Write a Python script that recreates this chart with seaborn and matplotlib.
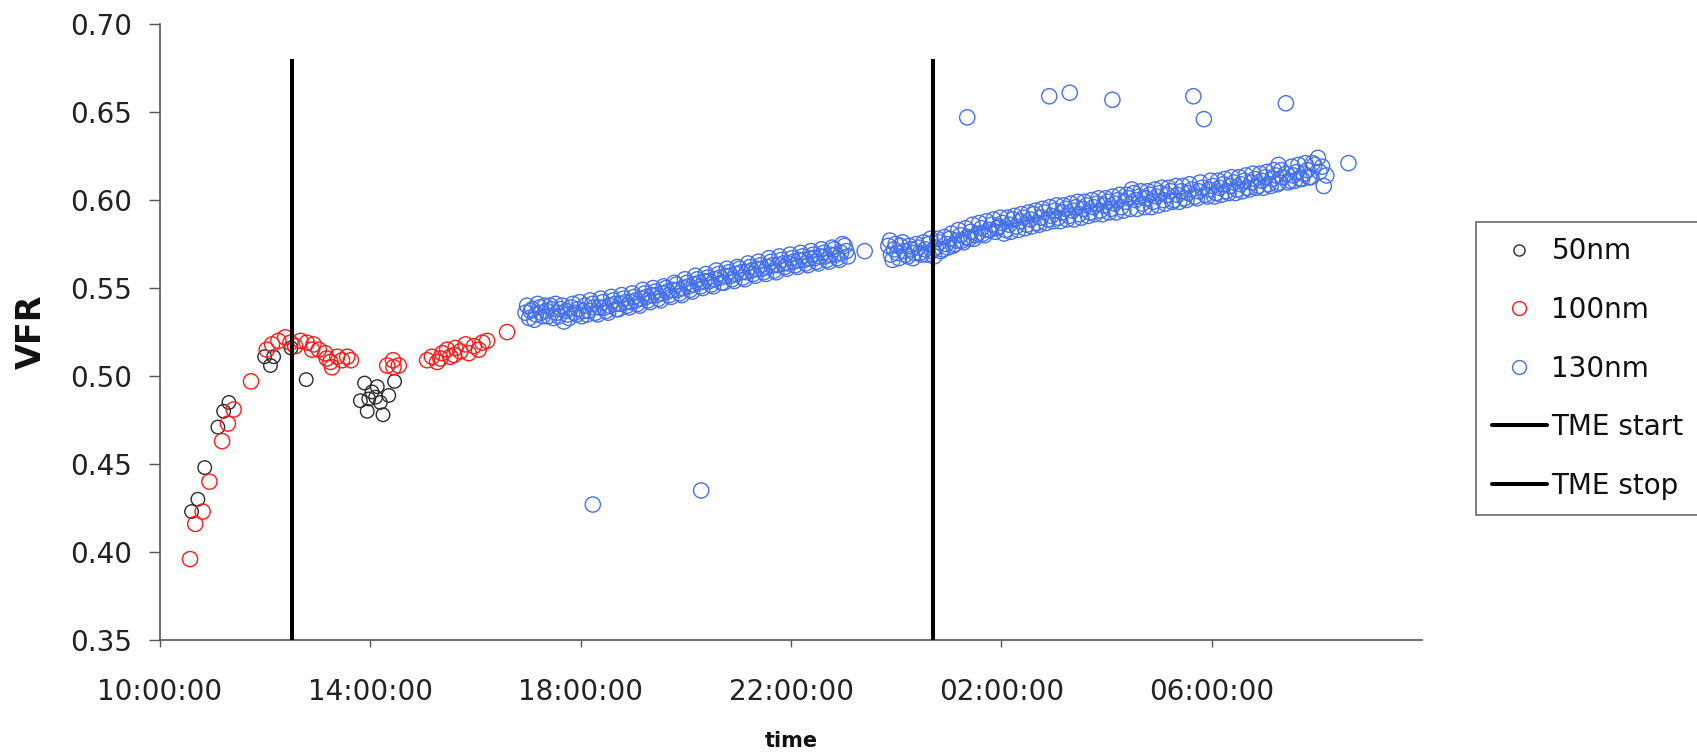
import matplotlib
matplotlib.use("Agg")
import matplotlib.pyplot as plt
from matplotlib.lines import Line2D
import seaborn as sns
import pandas as pd

# ---- data (hours elapsed since 10:00:00) ----
t50 = [0.60, 0.72, 0.85, 1.10, 1.21, 1.31, 1.99, 2.10, 2.16, 2.49, 2.78,
       3.81, 3.89, 3.94, 3.97, 4.03, 4.10, 4.13, 4.19, 4.24, 4.35, 4.46]
v50 = [0.423, 0.430, 0.448, 0.471, 0.480, 0.485, 0.511, 0.506, 0.511, 0.516, 0.498,
       0.486, 0.496, 0.480, 0.487, 0.491, 0.488, 0.494, 0.485, 0.478, 0.489, 0.497]

t100 = [0.57, 0.67, 0.81, 0.94, 1.18, 1.29, 1.40, 1.73,
        2.03, 2.13, 2.25, 2.38, 2.48, 2.57, 2.67, 2.79, 2.89, 2.92, 3.02, 3.14,
        3.17, 3.24, 3.27, 3.37, 3.46, 3.56, 3.63,
        4.32, 4.43, 4.44, 4.54,
        5.08, 5.17, 5.27, 5.33, 5.37, 5.46, 5.52, 5.59, 5.62, 5.71, 5.81, 5.87,
        5.97, 6.06, 6.13, 6.22, 6.60]
v100 = [0.396, 0.416, 0.423, 0.440, 0.463, 0.473, 0.481, 0.497,
        0.515, 0.518, 0.520, 0.522, 0.519, 0.517, 0.520, 0.519, 0.515, 0.518, 0.515, 0.513,
        0.510, 0.508, 0.505, 0.511, 0.509, 0.511, 0.509,
        0.506, 0.509, 0.505, 0.506,
        0.509, 0.511, 0.508, 0.510, 0.513, 0.515, 0.511, 0.512, 0.516, 0.514, 0.518, 0.513,
        0.517, 0.515, 0.519, 0.520, 0.525]

# 130nm: main readings
t130a = [6.95, 7.02, 7.08, 7.15, 7.22, 7.28, 7.35, 7.42, 7.48, 7.55, 7.62, 7.68, 7.75,
         7.82, 7.88, 7.95, 8.02, 8.08, 8.15, 8.22, 8.23, 8.28, 8.35, 8.42, 8.48, 8.55,
         8.62, 8.68, 8.75, 8.82, 8.88, 8.95, 9.02, 9.08, 9.15, 9.22, 9.28, 9.35, 9.42,
         9.48, 9.55, 9.62, 9.68, 9.75, 9.82, 9.88, 9.95, 10.02, 10.08, 10.15, 10.22,
         10.28, 10.29, 10.35, 10.42, 10.48, 10.55, 10.62, 10.68, 10.75, 10.82, 10.88,
         10.95, 11.02, 11.08, 11.15, 11.22, 11.28, 11.35, 11.42, 11.48, 11.55, 11.62,
         11.68, 11.75, 11.82, 11.88, 11.95, 12.02, 12.08, 12.15, 12.22, 12.28, 12.35,
         12.42, 12.48, 12.55, 12.62, 12.68, 12.75, 12.82, 12.88, 12.95, 13.02, 13.08,
         13.40,
         13.85, 13.90, 13.96, 14.02, 14.08, 14.15, 14.22, 14.28, 14.35, 14.42, 14.48,
         14.55, 14.62, 14.68, 14.75, 14.82, 14.88, 14.95, 15.02, 15.08, 15.15, 15.22,
         15.28, 15.35, 15.35, 15.42, 15.48, 15.55, 15.62, 15.68, 15.75, 15.82, 15.88,
         15.95, 16.02, 16.08, 16.15, 16.22, 16.28, 16.35, 16.42, 16.48, 16.55, 16.62,
         16.68, 16.75, 16.82, 16.88, 16.91, 16.95, 17.02, 17.08, 17.15, 17.22, 17.28,
         17.30, 17.35, 17.42, 17.48, 17.55, 17.62, 17.68, 17.75, 17.82, 17.88, 17.95,
         18.02, 18.08, 18.11, 18.15, 18.22, 18.28, 18.35, 18.42, 18.48, 18.55, 18.62,
         18.68, 18.75, 18.82, 18.88, 18.95, 19.02, 19.08, 19.15, 19.22, 19.28, 19.35,
         19.42, 19.48, 19.55, 19.62, 19.65, 19.68, 19.75, 19.82, 19.85, 19.88, 19.95,
         20.02, 20.08, 20.15, 20.22, 20.28, 20.35, 20.42, 20.48, 20.55, 20.62, 20.68,
         20.75, 20.82, 20.88, 20.95, 21.02, 21.08, 21.15, 21.22, 21.27, 21.28, 21.35,
         21.41, 21.42, 21.48, 21.55, 21.62, 21.68, 21.75, 21.82, 21.88, 21.95, 22.02,
         22.05, 22.10, 22.13, 22.18, 22.60]
v130a = [0.536, 0.533, 0.538, 0.535, 0.539, 0.534, 0.537, 0.540, 0.533, 0.536, 0.538, 0.531, 0.535,
         0.539, 0.536, 0.538, 0.534, 0.540, 0.537, 0.541, 0.427, 0.536, 0.539, 0.542, 0.537, 0.540,
         0.543, 0.538, 0.541, 0.544, 0.540, 0.542, 0.545, 0.541, 0.544, 0.547, 0.543, 0.546, 0.548,
         0.544, 0.547, 0.550, 0.546, 0.549, 0.552, 0.547, 0.550, 0.553, 0.549, 0.552, 0.555,
         0.551, 0.435, 0.554, 0.556, 0.552, 0.555, 0.558, 0.553, 0.557, 0.559, 0.555,
         0.558, 0.561, 0.556, 0.559, 0.562, 0.558, 0.561, 0.563, 0.559, 0.562, 0.565,
         0.560, 0.563, 0.566, 0.562, 0.564, 0.567, 0.563, 0.566, 0.568, 0.564, 0.567,
         0.569, 0.565, 0.568, 0.570, 0.566, 0.569, 0.572, 0.567, 0.570, 0.574, 0.568,
         0.571,
         0.574, 0.569, 0.572, 0.570, 0.574, 0.571, 0.568, 0.572, 0.570, 0.573, 0.569,
         0.572, 0.575, 0.571, 0.573, 0.576, 0.572, 0.575, 0.578, 0.574, 0.577, 0.580,
         0.576, 0.647, 0.579, 0.582, 0.578, 0.581, 0.584, 0.580, 0.583, 0.586, 0.582,
         0.585, 0.587, 0.583, 0.586, 0.589, 0.585, 0.588, 0.590, 0.586, 0.589, 0.592,
         0.587, 0.590, 0.593, 0.589, 0.659, 0.591, 0.594, 0.590, 0.593, 0.595, 0.591,
         0.661, 0.594, 0.596, 0.592, 0.595, 0.597, 0.593, 0.596, 0.598, 0.594, 0.597,
         0.599, 0.595, 0.657, 0.598, 0.600, 0.596, 0.599, 0.601, 0.606, 0.600, 0.602,
         0.598, 0.601, 0.603, 0.599, 0.602, 0.604, 0.600, 0.603, 0.605, 0.600, 0.603,
         0.605, 0.601, 0.604, 0.606, 0.659, 0.602, 0.605, 0.607, 0.646, 0.603, 0.606,
         0.608, 0.604, 0.607, 0.609, 0.605, 0.608, 0.610, 0.606, 0.609, 0.611, 0.607,
         0.610, 0.612, 0.608, 0.611, 0.613, 0.609, 0.612, 0.614, 0.620, 0.610, 0.613,
         0.655, 0.615, 0.611, 0.614, 0.616, 0.612, 0.615, 0.617, 0.613, 0.620, 0.624,
         0.616, 0.619, 0.608, 0.614, 0.621]

# 130nm: interleaved readings (spread of the band)
t130b = [6.98, 7.05, 7.12, 7.18, 7.25, 7.32, 7.38, 7.45, 7.52, 7.58, 7.65, 7.72, 7.78,
         7.85, 7.92, 7.98, 8.05, 8.12, 8.18, 8.25, 8.32, 8.38, 8.45, 8.52, 8.58, 8.65,
         8.72, 8.78, 8.85, 8.92, 8.98, 9.05, 9.12, 9.18, 9.25, 9.32, 9.38, 9.45, 9.52,
         9.58, 9.65, 9.72, 9.78, 9.85, 9.92, 9.98, 10.05, 10.12, 10.18, 10.25, 10.32,
         10.38, 10.45, 10.52, 10.58, 10.65, 10.72, 10.78, 10.85, 10.92, 10.98, 11.05,
         11.12, 11.18, 11.25, 11.32, 11.38, 11.45, 11.52, 11.58, 11.65, 11.72, 11.78,
         11.85, 11.92, 11.98, 12.05, 12.12, 12.18, 12.25, 12.32, 12.38, 12.45, 12.52,
         12.58, 12.65, 12.72, 12.78, 12.85, 12.92, 12.98, 13.05,
         13.88, 13.93, 13.99, 14.05, 14.12, 14.18, 14.25, 14.32, 14.38, 14.45, 14.52,
         14.58, 14.65, 14.72, 14.78, 14.85, 14.92, 14.98, 15.05, 15.12, 15.18, 15.25,
         15.32, 15.38, 15.45, 15.52, 15.58, 15.65, 15.72, 15.78, 15.85, 15.92, 15.98,
         16.05, 16.12, 16.18, 16.25, 16.32, 16.38, 16.45, 16.52, 16.58, 16.65, 16.72,
         16.78, 16.85, 16.92, 16.98, 17.05, 17.12, 17.18, 17.25, 17.32, 17.38, 17.45,
         17.52, 17.58, 17.65, 17.72, 17.78, 17.85, 17.92, 17.98, 18.05, 18.12, 18.18,
         18.25, 18.32, 18.38, 18.45, 18.52, 18.58, 18.65, 18.72, 18.78, 18.85, 18.92,
         18.98, 19.05, 19.12, 19.18, 19.25, 19.32, 19.38, 19.45, 19.52, 19.58, 19.72,
         19.78, 19.92, 19.98, 20.05, 20.12, 20.18, 20.25, 20.32, 20.38, 20.45, 20.52,
         20.58, 20.65, 20.72, 20.78, 20.85, 20.92, 20.98, 21.05, 21.12, 21.18, 21.25,
         21.32, 21.45, 21.52, 21.58, 21.65, 21.72, 21.78, 21.85, 21.92]
v130b = [0.540, 0.537, 0.532, 0.541, 0.536, 0.540, 0.534, 0.538, 0.541, 0.534, 0.540, 0.537, 0.533,
         0.541, 0.535, 0.542, 0.537, 0.535, 0.543, 0.539, 0.535, 0.544, 0.539, 0.536, 0.545, 0.541,
         0.538, 0.546, 0.542, 0.539, 0.547, 0.543, 0.540, 0.549, 0.545, 0.542, 0.550, 0.546, 0.543,
         0.551, 0.548, 0.545, 0.553, 0.549, 0.546, 0.555, 0.551, 0.548, 0.557, 0.553, 0.550,
         0.558, 0.554, 0.551, 0.560, 0.556, 0.553, 0.561, 0.557, 0.554, 0.562, 0.559,
         0.555, 0.564, 0.560, 0.557, 0.565, 0.561, 0.558, 0.567, 0.563, 0.559, 0.568,
         0.564, 0.561, 0.569, 0.565, 0.562, 0.570, 0.566, 0.563, 0.571, 0.567, 0.564,
         0.572, 0.568, 0.565, 0.573, 0.569, 0.566, 0.575, 0.571,
         0.577, 0.566, 0.575, 0.567, 0.576, 0.569, 0.574, 0.567, 0.575, 0.570, 0.576,
         0.569, 0.578, 0.568, 0.578, 0.571, 0.579, 0.573, 0.581, 0.575, 0.583, 0.577,
         0.584, 0.578, 0.586, 0.580, 0.587, 0.581, 0.588, 0.583, 0.589, 0.584, 0.590,
         0.581, 0.590, 0.582, 0.591, 0.583, 0.592, 0.584, 0.593, 0.585, 0.594, 0.586,
         0.595, 0.587, 0.596, 0.588, 0.597, 0.588, 0.597, 0.589, 0.598, 0.589, 0.599,
         0.590, 0.599, 0.591, 0.600, 0.592, 0.601, 0.592, 0.601, 0.593, 0.602, 0.593,
         0.603, 0.594, 0.603, 0.595, 0.604, 0.595, 0.605, 0.596, 0.605, 0.596, 0.606,
         0.597, 0.607, 0.598, 0.607, 0.599, 0.608, 0.599, 0.608, 0.600, 0.609, 0.601,
         0.610, 0.602, 0.611, 0.602, 0.611, 0.603, 0.612, 0.604, 0.613, 0.604, 0.613,
         0.605, 0.614, 0.606, 0.615, 0.607, 0.615, 0.607, 0.616, 0.608, 0.617, 0.609,
         0.617, 0.610, 0.619, 0.611, 0.620, 0.612, 0.621, 0.613, 0.621]

tme_events = ["TME start", "TME stop"]
tme_times = [2.51, 14.70]
tme_top = 0.68

x_ticks = [0, 4, 8, 12, 16, 20]
x_labels = ["10:00:00", "14:00:00", "18:00:00", "22:00:00", "02:00:00", "06:00:00"]
y_ticks = [0.35, 0.40, 0.45, 0.50, 0.55, 0.60, 0.65, 0.70]

series = ["50nm", "100nm", "130nm"]
colors = {"50nm": "#2b2b2b", "100nm": "#ff1a1a", "130nm": "#4470ea"}
sizes = {"50nm": 95, "100nm": 120, "130nm": 120}

df = pd.concat([
    pd.DataFrame({"time": t50, "VFR": v50, "size": "50nm"}),
    pd.DataFrame({"time": t100, "VFR": v100, "size": "100nm"}),
    pd.DataFrame({"time": t130a + t130b, "VFR": v130a + v130b, "size": "130nm"}),
], ignore_index=True)

sns.set_style("ticks")
plt.rcParams["font.family"] = ["DejaVu Sans"]

fig = plt.figure(figsize=(16.97, 7.53), dpi=100)
ax = fig.add_axes([0.0943, 0.150, 0.7437, 0.818])

for s in series:
    sub = df[df["size"] == s]
    sns.scatterplot(data=sub, x="time", y="VFR", ax=ax, marker="o",
                    s=sizes[s], facecolors="none", edgecolor=colors[s],
                    linewidth=1.0, legend=False, zorder=3)

for ev, tt in zip(tme_events, tme_times):
    ax.vlines(tt, y_ticks[0], tme_top, color="black", linewidth=2.9, zorder=4)

ax.set_xlim(0, 24)
ax.set_ylim(0.35, 0.70)
ax.set_xticks(x_ticks)
ax.set_xticklabels(x_labels)
ax.set_yticks(y_ticks)
ax.set_yticklabels([f"{v:.2f}" for v in y_ticks])

for side in ["top", "right"]:
    ax.spines[side].set_visible(False)
for side in ["left", "bottom"]:
    ax.spines[side].set_color("#555555")
    ax.spines[side].set_linewidth(1.2)

ax.tick_params(axis="y", length=8, width=1.0, color="#555555", pad=12,
               labelsize=20, labelcolor="#222222")
ax.tick_params(axis="x", length=5, width=1.0, color="#555555", pad=22,
               labelsize=20, labelcolor="#222222")

ax.set_xlabel("time", fontsize=15, fontweight="bold", labelpad=18, color="#111111")
ax.set_ylabel("VFR", fontsize=24, fontweight="bold", labelpad=16, color="#111111")

handles = []
for s in series:
    handles.append(Line2D([], [], linestyle="none", marker="o", markersize=8 if s == "50nm" else 10,
                          markerfacecolor="none", markeredgecolor=colors[s],
                          markeredgewidth=1.0, label=s))
for ev in tme_events:
    handles.append(Line2D([], [], color="black", linewidth=2.9, label=ev))

leg = fig.legend(handles=handles, loc="upper left", bbox_to_anchor=(0.870, 0.705),
                 bbox_transform=fig.transFigure, frameon=True, fancybox=False,
                 fontsize=20, handlelength=2.0, handletextpad=0.15,
                 labelspacing=1.1, borderpad=0.55, borderaxespad=0)
leg.get_frame().set_edgecolor("#444444")
leg.get_frame().set_linewidth(1.2)
for txt in leg.get_texts():
    txt.set_color("#111111")

fig.savefig("out.png", dpi=100)
